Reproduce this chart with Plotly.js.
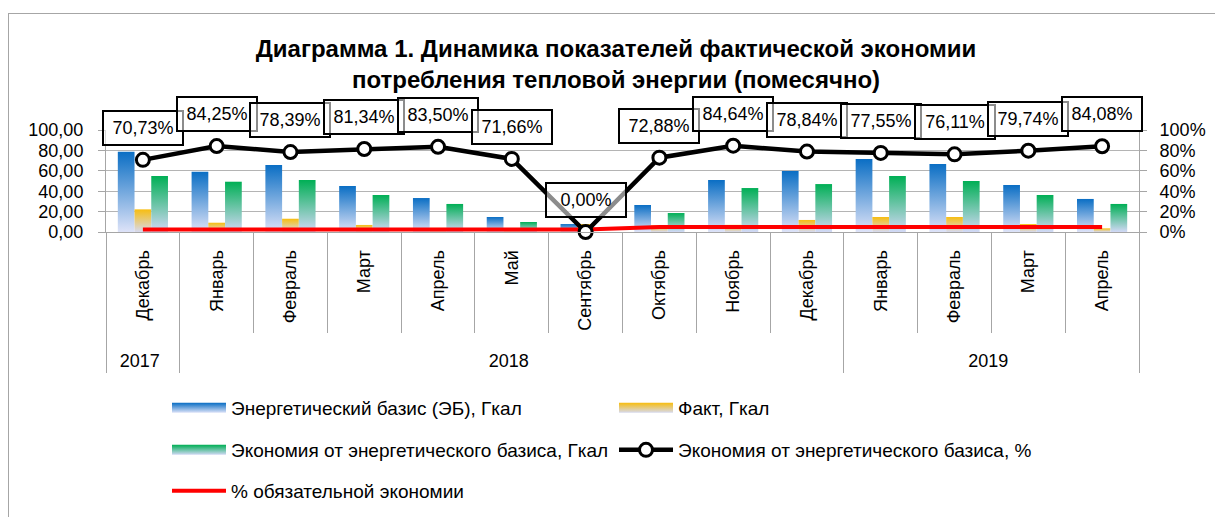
<!DOCTYPE html>
<html><head><meta charset="utf-8">
<script src="https://cdn.plot.ly/plotly-3.0.1.min.js"></script>
<style>
html,body{margin:0;padding:0;background:#fff;overflow:hidden}
#chart{width:1215px;height:517px}
#frame{position:absolute;left:8px;top:13px;width:1230px;height:530px;border:1px solid #a6a6a6;pointer-events:none}
</style></head><body>
<svg width="0" height="0" style="position:absolute">
<defs>
<linearGradient id="gBlue" x1="0" y1="0" x2="0" y2="1"><stop offset="0" stop-color="#0A6EC4"/><stop offset="1" stop-color="#DEE3F8"/></linearGradient>
<linearGradient id="gYellow" x1="0" y1="0" x2="0" y2="1"><stop offset="0" stop-color="#F7BD10"/><stop offset="1" stop-color="#D6DAF0"/></linearGradient>
<linearGradient id="gGreen" x1="0" y1="0" x2="0" y2="1"><stop offset="0" stop-color="#00AF55"/><stop offset="1" stop-color="#D3D9F6"/></linearGradient>
</defs></svg>
<div id="chart"></div><div id="frame"></div>
<script>
const years = ['2017','2018','2018','2018','2018','2018','2018','2018','2018','2018','2019','2019','2019','2019'];
const months = ['Декабрь','Январь','Февраль','Март','Апрель','Май','Сентябрь','Октябрь','Ноябрь','Декабрь','Январь','Февраль','Март','Апрель'];
const basis = [78.7, 59.1, 65.7, 45.1, 33.3, 14.7, 7.8, 26.5, 51.0, 59.8, 71.6, 66.7, 46.1, 32.4];
const fact = [22.2, 9.1, 13.0, 6.9, 4.0, 3.0, 7.8, 6.5, 7.0, 11.8, 14.7, 14.7, 7.8, 3.6];
const economy = [54.9, 49.3, 51.0, 36.3, 27.5, 9.8, 0, 18.6, 43.1, 47.0, 54.9, 50.0, 36.3, 27.5];
const economyPct = [70.73, 84.25, 78.39, 81.34, 83.50, 71.66, 0.00, 72.88, 84.64, 78.84, 77.55, 76.11, 79.74, 84.08];
const mandatoryPct = [2.5, 2.5, 2.5, 2.5, 2.5, 2.5, 2.5, 5, 5, 5, 5, 5, 5, 5];

const FONT = 'Liberation Sans, Arial, sans-serif';
const GRID = '#b4b4b4';
const AX = '#a6a6a6';

// repeated month names get an invisible suffix so the multicategory axis keeps chronological order
const seen = {};
const monthKeys = months.map(m => { seen[m] = (seen[m] || 0); const k = m + '\u200b'.repeat(seen[m]); seen[m]++; return k; });
const xcat = [years, monthKeys];

const traces = [
  {type:'bar', x:xcat, y:basis, name:'Энергетический базис (ЭБ), Гкал', marker:{color:'rgb(0,112,192)'}, legend:'legend'},
  {type:'bar', x:xcat, y:fact, name:'Факт, Гкал', marker:{color:'rgb(255,192,0)'}, legend:'legend'},
  {type:'bar', x:xcat, y:economy, name:'Экономия от энергетического базиса, Гкал', marker:{color:'rgb(0,176,80)'}, legend:'legend2'},
  {type:'scatter', mode:'lines', x:xcat, y:mandatoryPct.map(v=>v/100), yaxis:'y2', name:'% обязательной экономии',
   line:{color:'#FF0000', width:4}, legend:'legend3', cliponaxis:false},
  {type:'scatter', mode:'lines+markers', x:xcat, y:economyPct.map(v=>v/100), yaxis:'y2', name:'Экономия от энергетического базиса, %',
   line:{color:'#000', width:4.5}, marker:{symbol:'circle', size:13, color:'#fff', line:{color:'#000', width:3}},
   legend:'legend2', cliponaxis:false}
];

const annotations = economyPct.map((v,i)=>({
  x:i, xref:'x', y:v/100, yref:'y2', yshift:32, showarrow:false,
  text: v.toFixed(2).replace('.', ',') + '%',
  font:{family:FONT, size:18, color:'#000'},
  bgcolor:'rgba(255,255,255,0.55)', bordercolor:'#000', borderwidth:2, borderpad:1,
  width:76, height:30
}));

const legBase = {orientation:'h', xref:'container', yref:'container', xanchor:'left', yanchor:'middle',
  font:{family:FONT, size:19, color:'#000'}, itemwidth:54, entrywidthmode:'pixels', entrywidth:378,
  bgcolor:'rgba(0,0,0,0)', traceorder:'normal'};

const layout = {
  width:1215, height:517,
  margin:{l:106, r:76, t:130, b:285},
  paper_bgcolor:'#fff', plot_bgcolor:'#fff',
  separators:', ',
  font:{family:FONT, size:18, color:'#000'},
  title:{text:'<b>Диаграмма 1. Динамика показателей фактической экономии</b><br><b>потребления тепловой энергии (помесячно)</b>',
    font:{family:FONT, size:24, color:'#000'}, xref:'container', x:0.507, xanchor:'center', yref:'container', y:0.89, yanchor:'top'},
  barmode:'group', bargap:0.32, bargroupgap:0,
  xaxis:{type:'multicategory', autorange:false, range:[-0.5, months.length - 0.5], tickangle:-90, ticks:'outside', ticklen:100, tickcolor:AX, tickwidth:1,
    showline:true, linecolor:AX, linewidth:1, showgrid:false, showdividers:true, dividercolor:AX, dividerwidth:1,
    tickfont:{family:FONT, size:18, color:'#000'}, ticklabelstandoff:10},
  yaxis:{range:[0,100], dtick:20, tickformat:'.2f', showgrid:true, gridcolor:GRID, gridwidth:1,
    showline:true, linecolor:AX, ticks:'outside', ticklen:7, tickcolor:AX, zeroline:false,
    tickfont:{family:FONT, size:18, color:'#000'}, ticklabelstandoff:11},
  yaxis2:{overlaying:'y', side:'right', range:[0,1], dtick:0.2, tickformat:'.0%', showgrid:false,
    showline:true, linecolor:AX, ticks:'outside', ticklen:7, tickcolor:AX, zeroline:false,
    tickfont:{family:FONT, size:18, color:'#000'}, ticklabelstandoff:9},
  legend:Object.assign({}, legBase, {x:167/1215, y:1-408/517}),
  legend2:Object.assign({}, legBase, {x:167/1215, y:1-450/517}),
  legend3:Object.assign({}, legBase, {x:167/1215, y:1-491/517}),
  annotations:annotations,
  showlegend:true
};

Plotly.newPlot('chart', traces, layout, {staticPlot:true, displayModeBar:false}).then(gd=>{
  const map = {'rgb(0, 112, 192)':'url(#gBlue)', 'rgb(255, 192, 0)':'url(#gYellow)', 'rgb(0, 176, 80)':'url(#gGreen)'};
  gd.querySelectorAll('path').forEach(p=>{
    const f = p.style.fill;
    if(map[f]){
      p.style.fill = map[f];
      if(p.closest('.legendpoints')){
        p.setAttribute('d','M27,5H-27V-5H27Z');
        p.style.stroke = 'none';
      }
    }
  });
  // year level a little lower, dividers a little longer (as in the reference)
  gd.querySelectorAll('.xtick2 text').forEach(t=>{
    t.setAttribute('transform', 'translate(0,12) ' + (t.getAttribute('transform') || ''));
  });
  gd.querySelectorAll('path.xdivider').forEach(p=>{
    const d = p.getAttribute('d') || '';
    p.setAttribute('d', d.replace(/v(-?[\d.]+)/, (m, n) => 'v' + (parseFloat(n) + 13)));
  });
});
</script>
</body></html>
